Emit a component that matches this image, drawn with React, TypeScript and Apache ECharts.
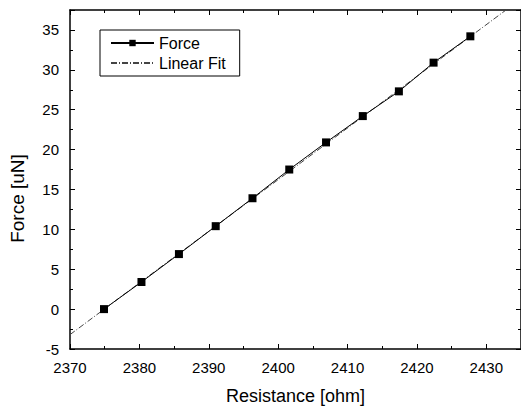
import React, { useEffect, useRef } from "react";
import * as echarts from "echarts";

const resistance = [2374.9, 2380.3, 2385.7, 2391.0, 2396.3, 2401.6, 2406.9, 2412.2, 2417.4, 2422.4, 2427.7];
const force = [0.0, 3.4, 6.9, 10.4, 13.9, 17.5, 20.9, 24.2, 27.3, 30.9, 34.2];
const fitX = [2370, 2435];
const fitY = [-3.2, 38.9];

const FONT = "'Liberation Sans', Arial, sans-serif";

export default function App() {
  const ref = useRef<HTMLDivElement>(null);
  useEffect(() => {
    if (!ref.current) return;
    const chart = echarts.init(ref.current, null, { renderer: "svg" });
    const axisCommon = {
      axisLine: { show: true, onZero: false, lineStyle: { color: "#000", width: 1.5 } },
      axisTick: { show: true, inside: true, length: 5, lineStyle: { color: "#000", width: 1 } },
      minorTick: { show: true, splitNumber: 2, length: 3, lineStyle: { color: "#000", width: 1 } },
      splitLine: { show: false },
      minorSplitLine: { show: false },
    };
    const lbl = { fontFamily: FONT, fontSize: 15, color: "#000", formatter: (v: number) => String(v) };
    chart.setOption({
      animation: false,
      backgroundColor: "#fff",
      textStyle: { fontFamily: FONT },
      grid: { left: 70, right: 0, top: 10, bottom: 61, containLabel: false },
      legend: {
        left: 100,
        top: 30,
        orient: "vertical",
        borderColor: "#000",
        borderWidth: 1,
        padding: [5, 14, 5, 10],
        itemGap: 4,
        itemWidth: 43,
        itemHeight: 8,
        textStyle: { fontFamily: FONT, fontSize: 16, color: "#000" },
        data: [
          { name: "Force" },
          { name: "Linear Fit", itemStyle: { opacity: 0 } },
        ],
      },
      xAxis: [
        {
          type: "value",
          min: 2370,
          max: 2435,
          interval: 10,
          name: "Resistance [ohm]",
          nameLocation: "middle",
          nameGap: 38,
          nameTextStyle: { fontFamily: FONT, fontSize: 18, color: "#000" },
          axisLabel: { ...lbl, margin: 11, showMaxLabel: false },
          ...axisCommon,
        },
        {
          type: "value",
          position: "top",
          min: 2370,
          max: 2435,
          interval: 10,
          axisLabel: { show: false },
          ...axisCommon,
        },
      ],
      yAxis: [
        {
          type: "value",
          min: -5,
          max: 37.5,
          interval: 5,
          name: "Force [uN]",
          nameLocation: "middle",
          nameGap: 43,
          nameTextStyle: { fontFamily: FONT, fontSize: 19, color: "#000", padding: [0, 38, 0, 0] },
          axisLabel: { ...lbl, margin: 11, showMaxLabel: false },
          ...axisCommon,
        },
        {
          type: "value",
          position: "right",
          min: -5,
          max: 37.5,
          interval: 5,
          axisLabel: { show: false },
          ...axisCommon,
        },
      ],
      series: [
        {
          name: "Linear Fit",
          type: "line",
          data: fitX.map((x, i) => [x, fitY[i]]),
          symbol: "none",
          showSymbol: false,
          clip: true,
          lineStyle: { color: "#444", width: 1, type: [6, 2, 1, 2] },
          itemStyle: { color: "#444" },
          z: 1,
        },
        {
          name: "Force",
          type: "line",
          data: resistance.map((x, i) => [x, force[i]]),
          symbol: "rect",
          symbolSize: 8,
          lineStyle: { color: "#000", width: 1 },
          itemStyle: { color: "#000" },
          z: 2,
        },
      ],
    });
    return () => chart.dispose();
  }, []);
  return <div ref={ref} style={{ width: 521, height: 410, position: "absolute", left: 0, top: 0 }} />;
}
